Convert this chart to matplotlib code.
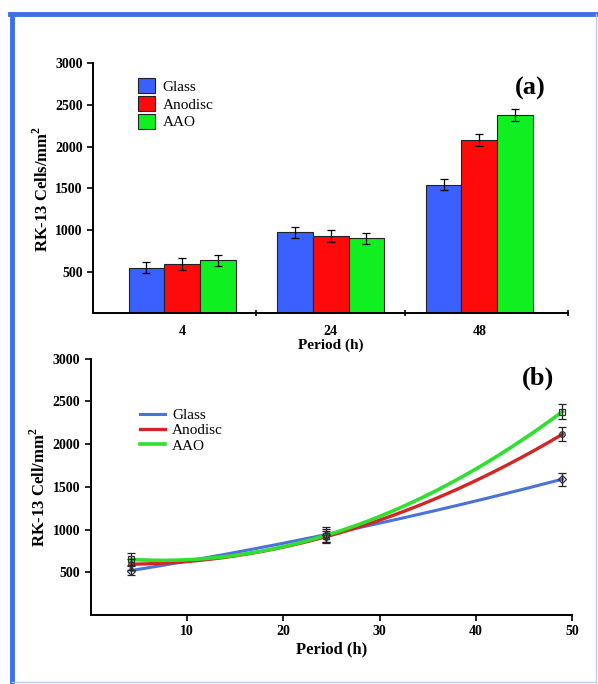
import numpy as np
import matplotlib
matplotlib.use('Agg')
import matplotlib.pyplot as plt
from matplotlib.lines import Line2D
from matplotlib.patches import Patch

plt.rcParams['font.family'] = ['Liberation Serif', 'DejaVu Serif']
plt.rcParams['mathtext.fontset'] = 'custom'
plt.rcParams['mathtext.rm'] = 'Liberation Serif'
plt.rcParams['mathtext.bf'] = 'Liberation Serif:bold'

# bar chart data (a)
periods = ['4', '24', '48']
glass = [550, 975, 1545]
anodisc = [595, 930, 2080]
aao = [635, 900, 2380]
glass_err = [68, 65, 68]
anodisc_err = [70, 68, 68]
aao_err = [62, 70, 70]

# line chart data (b)
hours = [4.2, 24.4, 49]
glass_b = [520, 940, 1590]
anodisc_b = [595, 915, 2115]
aao_b = [650, 930, 2380]
glass_b_err = [55, 90, 75]
anodisc_b_err = [65, 70, 80]
aao_b_err = [70, 80, 85]

c_blue, c_red, c_green = '#3a60ff', '#ff0a0a', '#10f020'
l_blue, l_red, l_green = '#4a72d8', '#d42424', '#30e030'

fig = plt.figure(figsize=(5.98, 6.84), dpi=100)

# frame around the whole figure
fig.add_artist(Line2D([9.5/598, 597/598], [1-14/684, 1-14/684], color='#3d6fe6', lw=3.5))
fig.add_artist(Line2D([11.5/598, 11.5/598], [1-14/684, 0], color='#3d6fe6', lw=3.5))
fig.add_artist(Line2D([596/598, 596/598], [1-14/684, 0.003], color='#b8cdf2', lw=1))
fig.add_artist(Line2D([12/598, 596/598], [0.003, 0.003], color='#b8cdf2', lw=1))

def style_axes(ax):
    for s in ['top', 'right']:
        ax.spines[s].set_visible(False)
    for s in ['left', 'bottom']:
        ax.spines[s].set_linewidth(1.4)
    ax.tick_params(axis='both', labelsize=10, width=1.2, length=4)
    for lab in ax.get_xticklabels() + ax.get_yticklabels():
        lab.set_fontweight('bold')

# ---- (a) bar chart
ax1 = fig.add_axes([0.1555, 0.5418, 0.795, 0.3655])
x = np.arange(len(periods))
w = 0.24
ax1.bar(x - w, glass, w, yerr=glass_err, color=c_blue, edgecolor='#222222', lw=0.8,
        capsize=3, error_kw={'elinewidth': 0.9, 'capthick': 0.9}, label='Glass')
ax1.bar(x, anodisc, w, yerr=anodisc_err, color=c_red, edgecolor='#222222', lw=0.8,
        capsize=3, error_kw={'elinewidth': 0.9, 'capthick': 0.9}, label='Anodisc')
ax1.bar(x + w, aao, w, yerr=aao_err, color=c_green, edgecolor='#222222', lw=0.8,
        capsize=3, error_kw={'elinewidth': 0.9, 'capthick': 0.9}, label='AAO')
ax1.set_xlim(-0.6, 2.6)
ax1.set_ylim(0, 3000)
ax1.set_yticks([500, 1000, 1500, 2000, 2500, 3000])
ax1.set_xticks(x)
ax1.set_xticklabels(periods)
ax1.set_xticks([0.5, 1.5, 2.6], minor=True)
style_axes(ax1)
ax1.tick_params(axis='x', which='major', length=0, pad=8)
ax1.tick_params(axis='x', which='minor', length=5, width=1.2, direction='inout')
ax1.set_xlabel('Period (h)', fontsize=11, fontweight='bold', labelpad=1)
ax1.set_ylabel(r'RK-13 Cells/mm$^{\mathbf{2}}$', fontsize=12, fontweight='bold', labelpad=2)
ax1.text(0.92, 0.9, '(a)', transform=ax1.transAxes, fontsize=19, fontweight='bold',
         ha='center', va='center')
handles = [Patch(facecolor=c, edgecolor='#222222', lw=0.8) for c in (c_blue, c_red, c_green)]
ax1.legend(handles, ['Glass', 'Anodisc', 'AAO'], loc='upper left',
           bbox_to_anchor=(0.082, 0.965), frameon=False, fontsize=11,
           handlelength=1.1, handleheight=1.1, handletextpad=0.5, labelspacing=0.15,
           borderaxespad=0)

# ---- (b) line chart
ax2 = fig.add_axes([0.1518, 0.1009, 0.8047, 0.3747])
xs = np.linspace(hours[0], hours[-1], 200)
series = [(glass_b, glass_b_err, l_blue, 'D', 'Glass', 2.2),
          (anodisc_b, anodisc_b_err, l_red, 'o', 'Anodisc', 2.4),
          (aao_b, aao_b_err, l_green, 's', 'AAO', 2.6)]
for vals, err, col, mk, lab, lw in series:
    coef = np.polyfit(hours, vals, 2)
    ax2.plot(xs, np.polyval(coef, xs), color=col, lw=lw, label=lab)
for vals, err, col, mk, lab, lw in series:
    ax2.errorbar(hours, vals, yerr=err, fmt=mk, ms=4, mfc='none', mec='#333333',
                 mew=0.9, ecolor='#222222', elinewidth=0.9, capsize=3, capthick=0.9)
ax2.set_xlim(0, 50)
ax2.set_ylim(0, 3000)
ax2.set_xticks([10, 20, 30, 40, 50])
ax2.set_yticks([500, 1000, 1500, 2000, 2500, 3000])
style_axes(ax2)
ax2.set_xlabel('Period (h)', fontsize=12, fontweight='bold', labelpad=2)
ax2.set_ylabel(r'RK-13 Cell/mm$^{\mathbf{2}}$', fontsize=12, fontweight='bold', labelpad=3)
ax2.text(0.93, 0.925, '(b)', transform=ax2.transAxes, fontsize=19, fontweight='bold',
         ha='center', va='center')
ax2.legend(loc='upper left', bbox_to_anchor=(0.09, 0.83), frameon=False, fontsize=11,
           handlelength=1.6, handletextpad=0.5, labelspacing=0.1, borderaxespad=0)

plt.savefig('out.png', dpi=100)
